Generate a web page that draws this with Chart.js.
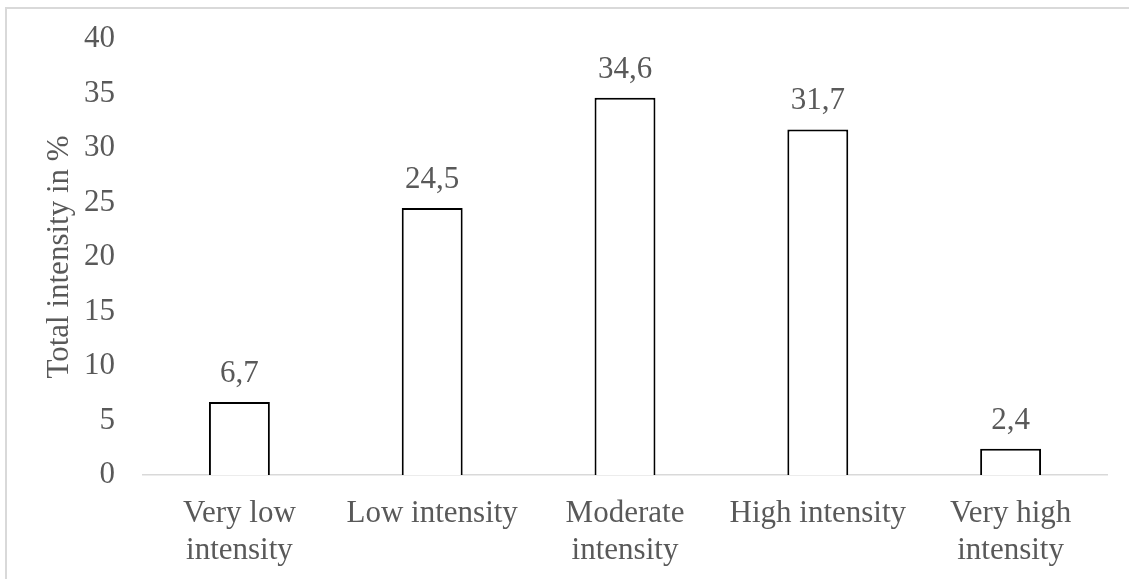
<!DOCTYPE html>
<html>
<head>
<meta charset="utf-8">
<script src="https://cdn.jsdelivr.net/npm/chart.js@4.4.1/dist/chart.umd.min.js"></script>
<style>
  html, body { margin: 0; padding: 0; background: #fff; overflow: hidden; }
  #wrap { position: relative; width: 1129px; height: 579px; overflow: hidden; }
  #frame { position: absolute; left: 5px; top: 7px; width: 1200px; height: 700px; border: 2px solid #d9d9d9; box-sizing: border-box; }
  #chart { position: absolute; left: 0; top: 0; }
</style>
</head>
<body>
<div id="wrap">
  <div id="frame"></div>
  <canvas id="chart" width="1129" height="579"></canvas>
</div>
<script>
const categories = [
  ['Very low', 'intensity'],
  'Low intensity',
  ['Moderate', 'intensity'],
  'High intensity',
  ['Very high', 'intensity']
]
const intensity = [6.7, 24.5, 34.6, 31.7, 2.4]
const yTicks = [0, 5, 10, 15, 20, 25, 30, 35, 40]

const textColor = '#595959'
const font = { family: '"Liberation Serif", "Times New Roman", serif', size: 31 }

// draws the value above each bar, decimal comma like the original
const valueLabels = {
  id: 'valueLabels',
  afterDatasetsDraw(chart) {
    const ctx = chart.ctx
    const meta = chart.getDatasetMeta(0)
    ctx.save()
    ctx.font = font.size + 'px ' + font.family
    ctx.fillStyle = textColor
    ctx.textAlign = 'center'
    ctx.textBaseline = 'alphabetic'
    meta.data.forEach((bar, i) => {
      const txt = intensity[i].toFixed(1).replace('.', ',')
      ctx.fillText(txt, bar.x, bar.y - 20)
    })
    ctx.restore()
  }
}

new Chart(document.getElementById('chart').getContext('2d'), {
  type: 'bar',
  data: {
    labels: categories,
    datasets: [{
      data: intensity,
      backgroundColor: '#ffffff',
      borderColor: '#000000',
      borderWidth: 2,
      categoryPercentage: 1,
      barPercentage: 0.316
    }]
  },
  options: {
    responsive: false,
    devicePixelRatio: 1,
    animation: false,
    layout: { padding: { left: 0, top: 39, right: 22, bottom: 0 } },
    plugins: { legend: { display: false }, tooltip: { enabled: false } },
    scales: {
      x: {
        grid: { display: false, drawTicks: false },
        border: { display: true, color: '#d9d9d9', width: 1.5 },
        ticks: { color: textColor, font: { ...font, lineHeight: 1.2 }, padding: 20, maxRotation: 0, autoSkip: false },
        afterFit: s => { s.height = 104; s.paddingLeft = 0; s.paddingRight = 0 }
      },
      y: {
        min: 0, max: 40,
        afterBuildTicks: s => { s.ticks = yTicks.map(v => ({ value: v })) },
        grid: { display: false, drawTicks: false },
        border: { display: false },
        ticks: { color: textColor, font, padding: 28 },
        title: {
          display: true,
          text: 'Total intensity in %',
          color: textColor,
          font: { ...font, lineHeight: 1.2 },
          padding: { top: 41, bottom: 0 }
        },
        afterFit: s => { s.width = 143; s.paddingTop = 0; s.paddingBottom = 0 }
      }
    }
  },
  plugins: [valueLabels]
})
</script>
</body>
</html>
